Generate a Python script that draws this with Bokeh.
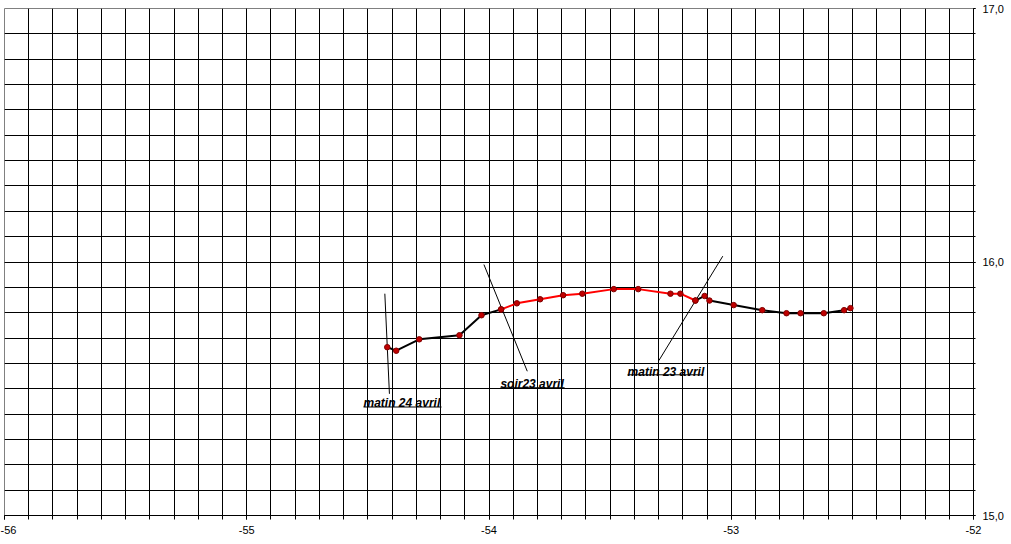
from bokeh.plotting import figure
from bokeh.models import FixedTicker, Range1d
from bokeh.core.properties import value
from bokeh.embed import file_html
from bokeh.resources import INLINE

# ---- data ----
lon_night1 = [-54.420, -54.383, -54.288, -54.122, -54.031, -53.950]
lat_night1 = [15.664, 15.650, 15.695, 15.711, 15.790, 15.813]

lon_day = [-53.950, -53.885, -53.789, -53.694, -53.615, -53.485, -53.384,
           -53.251, -53.210, -53.148]
lat_day = [15.813, 15.837, 15.853, 15.869, 15.875, 15.893, 15.893,
           15.875, 15.875, 15.848]

lon_night2 = [-53.148, -53.110, -53.090, -52.990, -52.872, -52.772, -52.714,
              -52.618, -52.534, -52.508]
lat_night2 = [15.848, 15.866, 15.848, 15.830, 15.810, 15.798, 15.798,
              15.798, 15.810, 15.818]

labels = ["matin 24 avril", "soir23 avril", "matin 23 avril"]
label_x = [-54.518, -53.953, -53.428]
label_y = [15.442, 15.517, 15.568]
label_x_end = [-54.196, -53.688, -53.115]
label_under_y = [15.428, 15.504, 15.555]

pointer_x0 = [-54.430, -54.021, -53.035]
pointer_y0 = [15.875, 15.990, 16.023]
pointer_x1 = [-54.411, -53.842, -53.299]
pointer_y1 = [15.480, 15.569, 15.611]

x_major = [-56, -55, -54, -53, -52]
x_tick_labels = {-56: "-56", -55: "-55", -54: "-54", -53: "-53", -52: "-52"}
x_minor = [round(-56 + 0.1 * i, 1) for i in range(41)]
y_major = [15, 16, 17]
y_minor = [round(15 + 0.1 * i, 1) for i in range(21)]
y_tick_labels = {15: "15,0", 16: "16,0", 17: "17,0"}

# ---- figure ----
p = figure(frame_width=969, frame_height=507, output_backend="svg",
           toolbar_location=None, y_axis_location="right",
           x_range=Range1d(-56, -52), y_range=Range1d(15, 17),
           min_border_left=4, min_border_top=8, min_border_right=0,
           min_border_bottom=0)
p.styles = {"margin-left": "0px"}
p.background_fill_color = "white"
p.border_fill_color = "white"
p.outline_line_color = "#808080"
p.outline_line_width = 1

font = "Liberation Sans"

p.xaxis.ticker = FixedTicker(ticks=x_major, minor_ticks=x_minor)
p.xaxis.major_label_overrides = x_tick_labels
p.yaxis.ticker = FixedTicker(ticks=y_major, minor_ticks=y_minor)
p.yaxis.major_label_overrides = y_tick_labels

for ax in (p.xaxis, p.yaxis):
    ax.axis_line_color = "black"
    ax.axis_line_width = 1
    ax.major_tick_line_color = "black"
    ax.minor_tick_line_color = "black"
    ax.major_tick_in = 0
    ax.minor_tick_in = 0
    ax.major_label_text_font = font
    ax.major_label_text_font_size = "11px"
    ax.major_label_text_color = "black"

p.xaxis.major_tick_out = 4
p.xaxis.minor_tick_out = 4
p.xaxis.major_label_standoff = 6
p.yaxis.major_tick_out = 2
p.yaxis.minor_tick_out = 2
p.yaxis.major_label_standoff = 7

for g in (p.xgrid, p.ygrid):
    g.grid_line_color = "black"
    g.grid_line_width = 1
    g.minor_grid_line_color = "black"
    g.minor_grid_line_width = 1

# pointer lines
p.segment(pointer_x0, pointer_y0, pointer_x1, pointer_y1,
          line_color="black", line_width=1)

# track
p.line(lon_night1, lat_night1, line_color="black", line_width=2)
p.line(lon_day, lat_day, line_color="#FF0000", line_width=2)
p.line(lon_night2, lat_night2, line_color="black", line_width=2)

for xs, ys in ((lon_night1, lat_night1), (lon_day, lat_day), (lon_night2, lat_night2)):
    p.scatter(xs, ys, size=5.5, fill_color="#C00000", line_color="#800000",
              line_width=1)

# labels
p.text(label_x, label_y, text=labels, text_font=value(font),
       text_font_style="bold italic", text_font_size="12px",
       text_color="black", text_align="left", text_baseline="alphabetic")
p.segment(label_x, label_under_y, label_x_end, label_under_y,
          line_color="black", line_width=1)

open("out.html", "w").write(file_html(p, INLINE))
